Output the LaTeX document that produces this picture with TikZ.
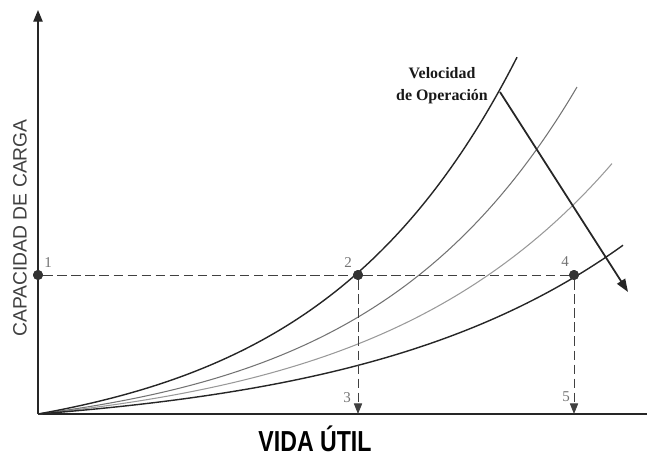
\documentclass[tikz,border=0pt]{standalone}
\usepackage{fontspec}
\setmainfont{Liberation Serif}
\setsansfont{Liberation Sans}
\usetikzlibrary{arrows.meta}
\tikzset{
    axis-line/.style = {draw=black!85, line width=1.2pt},
    curve-dark/.style = {draw=black!85, line width=1.2pt},
    curve-mid/.style = {draw=black!55, line width=0.9pt},
    curve-light/.style = {draw=black!40, line width=0.9pt},
    guide-line/.style = {draw=black!75, dash pattern=on 8pt off 4pt, line width=0.8pt},
    point-dot/.style = {circle, fill=black!80, inner sep=0pt, minimum size=8.5pt},
    point-label/.style = {font=\fontsize{12.8}{12.8}\selectfont, text=black!55},
    speed-label/.style = {align=center, text=black!90, font=\bfseries\fontsize{13.6}{18.8}\selectfont},
    axis-title/.style = {text=black!75, font=\sffamily\fontsize{16.5}{16.5}\selectfont},
    x-title/.style = {anchor=base, font=\sffamily\bfseries\fontsize{24.7}{24.7}\selectfont},
}

\begin{document}
\begin{tikzpicture}[x=0.03cm, y=0.03cm]
\useasboundingbox (-38,-46) rectangle (609,414);
\coordinate (origin) at (0,0);
\coordinate (y-end) at (0,404);
\coordinate (x-end) at (609,0);
\draw[axis-line, -{Triangle[length=10pt,width=8pt]}] (origin) -- (y-end);
\draw[axis-line] (origin) -- (x-end);

\draw[curve-light] plot[domain=0:574, samples=80, smooth] (\x, {24.75*(exp(0.0042*\x)-1)});
\draw[curve-mid] plot[domain=0:539, samples=80, smooth] (\x, {26.5*(exp(0.0048*\x)-1)});
\draw[curve-dark] plot[domain=0:585, samples=80, smooth] (\x, {20.5*(exp(0.0038*\x)-1)});
\draw[curve-dark] plot[domain=0:479, samples=80, smooth] (\x, {35.7*(exp(0.005*\x)-1)});

\node[point-dot] (p1) at (0,139) {};
\node[point-dot] (p2) at (320,139) {};
\node[point-dot] (p4) at (536,139) {};
\coordinate (p3) at (320,0);
\coordinate (p5) at (536,0);
\draw[guide-line] (p1) -- (p2) -- (p4);
\draw[guide-line, -{Triangle[length=9pt,width=7pt]}] (p2) -- (p3);
\draw[guide-line, -{Triangle[length=9pt,width=7pt]}] (p4) -- (p5);
\node[point-dot] at (p1) {};
\node[point-dot] at (p2) {};
\node[point-dot] at (p4) {};

\node[point-label] (lbl1) at (10,151) {1};
\node[point-label] (lbl2) at (310,151) {2};
\node[point-label] (lbl3) at (309,16) {3};
\node[point-label] (lbl4) at (527,152) {4};
\node[point-label] (lbl5) at (528,17) {5};

\coordinate (v-start) at (462,322);
\coordinate (v-end) at (590,122);
\draw[draw=black!85, line width=1.5pt, -{Triangle[length=11pt,width=8pt]}] (v-start) -- (v-end);
\node[speed-label] (speed) at (404,328) {Velocidad\\de Operación};

\node[axis-title, rotate=90] (y-title) at (-18,186) {CAPACIDAD DE CARGA};
\node[x-title] (x-title) at (277,-38) {\scalebox{0.8}[1]{VIDA ÚTIL}};
\end{tikzpicture}
\end{document}
